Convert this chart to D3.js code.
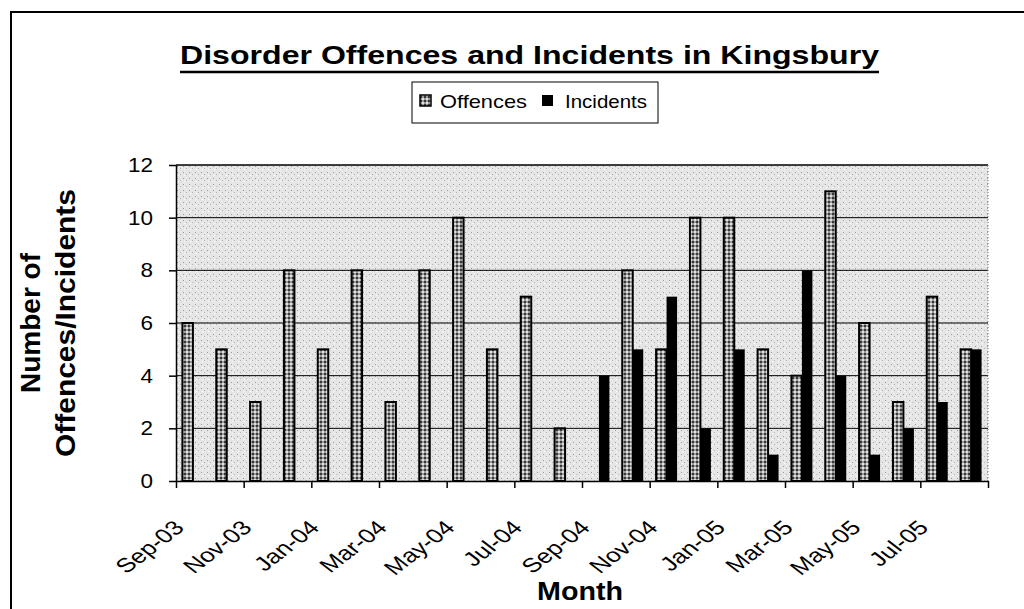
<!DOCTYPE html>
<html>
<head>
<meta charset="utf-8">
<script src="https://cdnjs.cloudflare.com/ajax/libs/d3/7.8.5/d3.min.js"></script>
<style>
  body { margin: 0; background: #fff; }
  text { font-family: Arial, "Liberation Sans", sans-serif; fill: #000; }
</style>
</head>
<body>
<div id="chart"></div>
<script>
    // data
    var months = ["Sep-03","Oct-03","Nov-03","Dec-03","Jan-04","Feb-04","Mar-04","Apr-04",
                  "May-04","Jun-04","Jul-04","Aug-04","Sep-04","Oct-04","Nov-04","Dec-04",
                  "Jan-05","Feb-05","Mar-05","Apr-05","May-05","Jun-05","Jul-05","Aug-05"];
    var offences  = [6,5,3,8,5,8,3,8,10,5,7,2,0,8,5,10,10,5,4,11,6,3,7,5];
    var incidents = [0,0,0,0,0,0,0,0,0,0,0,0,4,5,7,2,5,1,8,4,1,2,3,5];
    var seriesNames = ["Offences", "Incidents"];
    var yTicks = [0, 2, 4, 6, 8, 10, 12];
    var tickLabels = ["Sep-03","Nov-03","Jan-04","Mar-04","May-04","Jul-04",
                      "Sep-04","Nov-04","Jan-05","Mar-05","May-05","Jul-05"];

    // chart size
    var margin = {top: 165, right: 36, bottom: 128, left: 176},
        width = 1024 - margin.left - margin.right,
        height = 609 - margin.top - margin.bottom;

    var svg = d3.select("#chart")
      .append("svg")
        .attr("width", 1024)
        .attr("height", 609);

    // patterns for the scanned look
    var defs = svg.append("defs");
    var bg = defs.append("pattern")
        .attr("id", "bgPat")
        .attr("patternUnits", "userSpaceOnUse")
        .attr("width", 6).attr("height", 6);
    bg.append("rect").attr("width", 6).attr("height", 6).attr("fill", "#e6e6e6");
    bg.append("rect").attr("x", 1).attr("y", 1).attr("width", 1).attr("height", 1).attr("fill", "#9a9a9a");
    bg.append("rect").attr("x", 4).attr("y", 3).attr("width", 1).attr("height", 1).attr("fill", "#b4b4b4");
    bg.append("rect").attr("x", 2).attr("y", 4).attr("width", 1).attr("height", 1).attr("fill", "#ffffff");

    var off = defs.append("pattern")
        .attr("id", "offPat")
        .attr("patternUnits", "userSpaceOnUse")
        .attr("width", 4).attr("height", 4);
    off.append("rect").attr("width", 4).attr("height", 4).attr("fill", "#9a9a9a");
    off.append("rect").attr("width", 2).attr("height", 2).attr("fill", "#3a3a3a");
    off.append("rect").attr("x", 2).attr("y", 2).attr("width", 2).attr("height", 2).attr("fill", "#e0e0e0");

    // outer frame
    svg.append("rect")
        .attr("x", 11).attr("y", 12)
        .attr("width", 1100).attr("height", 700)
        .attr("fill", "none")
        .attr("stroke", "#000")
        .attr("stroke-width", 2);

    var g = svg.append("g")
        .attr("transform", "translate(" + margin.left + "," + margin.top + ")");

    // scales
    var x = d3.scaleBand()
        .domain(months)
        .range([0, width])
        .paddingInner(0.38)
        .paddingOuter(0.19);
    var x1 = d3.scaleBand()
        .domain(seriesNames)
        .range([0, x.bandwidth()]);
    var xt = d3.scaleLinear()
        .domain([0, months.length])
        .range([0, width]);
    var y = d3.scaleLinear()
        .domain([0, 12])
        .range([height, 0]);

    // plot background
    g.append("rect")
        .attr("width", width)
        .attr("height", height)
        .attr("fill", "url(#bgPat)");

    // gridlines
    g.selectAll("grid")
      .data(yTicks.filter(function(d) { return d > 0; }))
      .enter()
      .append("line")
        .attr("x1", 0)
        .attr("x2", width)
        .attr("y1", function(d) { return y(d); })
        .attr("y2", function(d) { return y(d); })
        .attr("stroke", "#000")
        .attr("stroke-width", function(d) { return d == 12 ? 1.5 : 1; });

    g.append("line")
        .attr("x1", width).attr("x2", width)
        .attr("y1", 0).attr("y2", height)
        .attr("stroke", "#666")
        .attr("stroke-dasharray", "1,2");

    // offences bars
    g.selectAll(".offbar")
      .data(months.map(function(m, i) { return {m: m, v: offences[i]}; }).filter(function(d) { return d.v > 0; }))
      .enter()
      .append("rect")
        .attr("class", "offbar")
        .attr("x", function(d) { return x(d.m) + x1("Offences"); })
        .attr("y", function(d) { return y(d.v); })
        .attr("width", x1.bandwidth())
        .attr("height", function(d) { return height - y(d.v); })
        .attr("fill", "url(#offPat)")
        .attr("stroke", "#000")
        .attr("stroke-width", 2);

    // incidents bars
    g.selectAll(".incbar")
      .data(months.map(function(m, i) { return {m: m, v: incidents[i]}; }).filter(function(d) { return d.v > 0; }))
      .enter()
      .append("rect")
        .attr("class", "incbar")
        .attr("x", function(d) { return x(d.m) + x1("Incidents"); })
        .attr("y", function(d) { return y(d.v); })
        .attr("width", x1.bandwidth())
        .attr("height", function(d) { return height - y(d.v); })
        .attr("fill", "#000");

    // y axis
    var yAxis = g.append("g")
        .call(d3.axisLeft(y).tickValues(yTicks).tickSize(7).tickSizeOuter(0).tickPadding(16));
    yAxis.selectAll("text")
        .style("font-size", "20px")
        .attr("textLength", function(d) { return String(d).length * 12.5; })
        .attr("lengthAdjust", "spacingAndGlyphs");
    yAxis.selectAll("path, line").attr("stroke", "#000").attr("stroke-width", 1.5);

    // x axis
    var xAxis = g.append("g")
        .attr("transform", "translate(0," + height + ")")
        .call(d3.axisBottom(xt)
          .tickValues(d3.range(0, months.length + 1, 2))
          .tickSize(7)
          .tickSizeOuter(0)
          .tickFormat(function(d) { return tickLabels[d / 2] || ""; }));
    xAxis.selectAll("path, line").attr("stroke", "#000").attr("stroke-width", 1.5);
    xAxis.selectAll("text")
        .attr("x", null)
        .attr("y", null)
        .attr("dy", null)
        .attr("transform", "translate(9,48) scale(1.3,1) rotate(-45)")
        .style("text-anchor", "end")
        .style("font-size", "20px");

    // titles
    svg.append("text")
        .attr("x", 180)
        .attr("y", 64)
        .attr("textLength", 699)
        .attr("lengthAdjust", "spacingAndGlyphs")
        .style("font-size", "26px")
        .style("font-weight", "bold")
        .text("Disorder Offences and Incidents in Kingsbury");
    svg.append("line")
        .attr("x1", 180).attr("x2", 879)
        .attr("y1", 72).attr("y2", 72)
        .attr("stroke", "#000")
        .attr("stroke-width", 2.5);

    svg.append("text")
        .attr("x", 580)
        .attr("y", 600)
        .attr("textLength", 86)
        .attr("lengthAdjust", "spacingAndGlyphs")
        .style("text-anchor", "middle")
        .style("font-size", "25px")
        .style("font-weight", "bold")
        .text("Month");

    svg.append("text")
        .attr("transform", "translate(40," + (margin.top + height / 2) + ") rotate(-90)")
        .style("text-anchor", "middle")
        .style("font-size", "28px")
        .style("font-weight", "bold")
        .text("Number of");
    svg.append("text")
        .attr("transform", "translate(75," + (margin.top + height / 2) + ") rotate(-90)")
        .attr("textLength", 268)
        .attr("lengthAdjust", "spacingAndGlyphs")
        .style("text-anchor", "middle")
        .style("font-size", "28px")
        .style("font-weight", "bold")
        .text("Offences/Incidents");

    // legend
    svg.append("rect")
        .attr("x", 412).attr("y", 82)
        .attr("width", 246).attr("height", 41)
        .attr("fill", "#fff")
        .attr("stroke", "#000")
        .attr("stroke-width", 1);
    svg.append("rect").attr("x", 420).attr("y", 95).attr("width", 11).attr("height", 11)
        .attr("fill", "url(#offPat)").attr("stroke", "#000").attr("stroke-width", 1.5);
    svg.append("rect").attr("x", 542).attr("y", 95).attr("width", 11).attr("height", 11)
        .attr("fill", "#000");
    svg.append("text").attr("x", 440).attr("y", 108).text("Offences")
        .attr("textLength", 87).attr("lengthAdjust", "spacingAndGlyphs").style("font-size", "19px");
    svg.append("text").attr("x", 565).attr("y", 108).text("Incidents")
        .attr("textLength", 82).attr("lengthAdjust", "spacingAndGlyphs").style("font-size", "19px");
</script>
</body>
</html>
